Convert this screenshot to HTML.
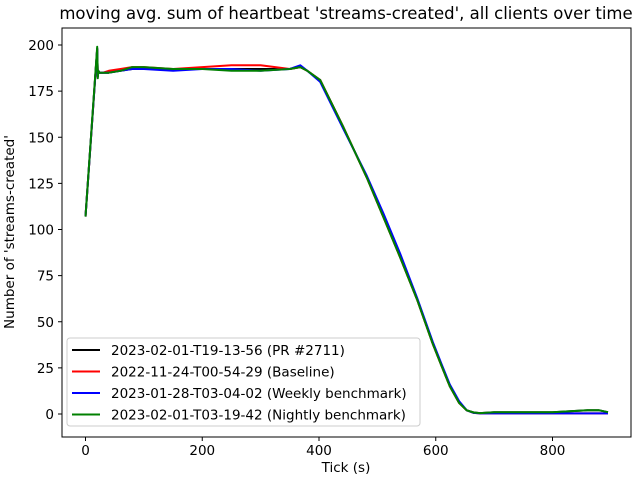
<!DOCTYPE html>
<html><head><meta charset="utf-8"><style>
body{margin:0;background:#fff}
svg text{font-family:"DejaVu Sans","Liberation Sans",sans-serif;fill:#000}
</style></head><body>
<svg id="chart" width="640" height="480" xmlns="http://www.w3.org/2000/svg">
<rect width="640" height="480" fill="#fff"/>
<text x="346" y="19" font-size="16.5" text-anchor="middle">moving avg. sum of heartbeat 'streams-created', all clients over time</text>
<g id="plot"></g>
<rect x="62" y="28" width="569" height="409" fill="none" stroke="#000" stroke-width="1"/>
<g id="ticks"></g>
<text x="346" y="472" font-size="13.5" text-anchor="middle">Tick (s)</text>
<text transform="translate(14,232) rotate(-90)" font-size="13.5" text-anchor="middle">Number of 'streams-created'</text>
<g id="legend">
<rect x="67" y="338" width="353" height="88" rx="3" fill="#fff" fill-opacity="0.8" stroke="#ccc"/>
</g>
</svg>
<script>
const xTicks=[0,200,400,600,800];
const yTicks=[0,25,50,75,100,125,150,175,200];
const seriesNames=["2023-02-01-T19-13-56 (PR #2711)","2022-11-24-T00-54-29 (Baseline)","2023-01-28-T03-04-02 (Weekly benchmark)","2023-02-01-T03-19-42 (Nightly benchmark)"];
const seriesColors=["#000000","#ff0000","#0000ff","#008000"];
const ticksT=[0,20,21,22,24,30,40,60,80,100,150,200,250,300,350,368,380,402,441,482,510,539,568,595,610,624,640,653,665,676,700,800,860,880,895];
const valsBlack=[107,198,183,186,185,185,185,186,187,187,187,187,187,187,187,188,186,181,156,128,107,85,62,38,26,15,6,2,0.8,0.5,1,1,2,2,1];
const valsRed=[107,198,183,186,185,185,186,187,188,188,187,188,189,189,187,188,186,181,156,128,107,85,62,38,26,15,6,2,0.6,0.3,0.3,0.3,0.3,0.3,0.3];
const valsBlue=[107,198,183,186,185,185,185,186,187,187,186,187,187,186,187,189,186,180,155,129,109,87,63,39,27,16,7,2,0.6,0.3,0.3,0.3,0.3,0.3,0.3];
const valsGreen=[107,199,182,186,185,185,185,186,188,188,187,187,186,186,187,188,186,181,156,128,107,85,62,38,26,15,6,2,0.8,0.5,1,1,2,2,1];
const allVals=[valsBlack,valsRed,valsBlue,valsGreen];
const NS="http://www.w3.org/2000/svg";
const X=t=>85.5+t*0.58375;
const Y=v=>414-v*1.845;
const plot=document.getElementById('plot');
allVals.forEach((vals,i)=>{
  const p=document.createElementNS(NS,'polyline');
  p.setAttribute('points',ticksT.map((t,j)=>X(t).toFixed(1)+','+Y(vals[j]).toFixed(1)).join(' '));
  p.setAttribute('fill','none');p.setAttribute('stroke',seriesColors[i]);p.setAttribute('stroke-width','2');p.setAttribute('stroke-linejoin','round');
  
  
  plot.appendChild(p);
});
const tg=document.getElementById('ticks');
xTicks.forEach(t=>{
  const l=document.createElementNS(NS,'line');
  l.setAttribute('x1',X(t));l.setAttribute('x2',X(t));l.setAttribute('y1',437);l.setAttribute('y2',441);l.setAttribute('stroke','#000');
  
  
  tg.appendChild(l);
  const tx=document.createElementNS(NS,'text');
  tx.setAttribute('x',X(t));tx.setAttribute('y',455);tx.setAttribute('font-size','13.5');tx.setAttribute('text-anchor','middle');
  tx.textContent=t;
  
  
  tg.appendChild(tx);
});
yTicks.forEach(v=>{
  const l=document.createElementNS(NS,'line');
  l.setAttribute('x1',58);l.setAttribute('x2',62);l.setAttribute('y1',Y(v));l.setAttribute('y2',Y(v));l.setAttribute('stroke','#000');
  
  
  tg.appendChild(l);
  const tx=document.createElementNS(NS,'text');
  tx.setAttribute('x',54);tx.setAttribute('y',Y(v)+5);tx.setAttribute('font-size','13.5');tx.setAttribute('text-anchor','end');
  tx.textContent=v;
  
  
  tg.appendChild(tx);
});
const lg=document.getElementById('legend');
seriesNames.forEach((n,i)=>{
  const y=350+i*21.5;
  const l=document.createElementNS(NS,'line');
  l.setAttribute('x1',72);l.setAttribute('x2',100);l.setAttribute('y1',y);l.setAttribute('y2',y);l.setAttribute('stroke',seriesColors[i]);l.setAttribute('stroke-width','2');
  
  
  lg.appendChild(l);
  const tx=document.createElementNS(NS,'text');
  tx.setAttribute('x',111);tx.setAttribute('y',y+5);tx.setAttribute('font-size','13.5');
  tx.textContent=n;
  
  
  lg.appendChild(tx);
});
</script>
</body></html>
